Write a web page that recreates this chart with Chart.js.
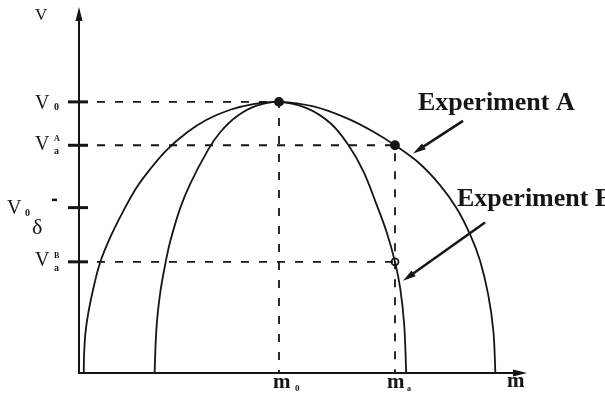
<!DOCTYPE html>
<html lang="en">
<head>
<meta charset="UTF-8" />
<title>Experiment A / Experiment B</title>
<script src="https://cdn.jsdelivr.net/npm/chart.js"></script>
<style>
    body { margin: 0; background: #fff; }
    canvas { display: block; }
</style>
</head>
<body>
<canvas id="chart" width="605" height="401"></canvas>
<script>
// levels on the V axis and positions on the m axis
const v0 = 10, vaA = 8.4, v0Delta = 6.1, vaB = 4.1;
const m0 = 5, ma = 7.9;
const mMax = 11.2, vMax = 13.5;

// outer curve (Experiment A)
const outerM = [0.12, 0.125, 0.16, 0.23, 0.35, 0.52, 0.78, 1.11, 1.44, 1.78, 2.19, 2.69, 3.19, 3.78, 4.36, 5,
                5.86, 6.69, 7.36, 7.9, 8.52, 9.02, 9.44, 9.78, 10.03, 10.23, 10.36, 10.41];
const outerV = [0, 0.6, 1.46, 2.2, 3.06, 4.04, 5.0, 5.98, 6.84, 7.52, 8.22, 8.86, 9.34, 9.71, 9.92, 10,
                9.83, 9.4, 8.9, 8.4, 7.72, 6.94, 6.08, 5.1, 4.12, 2.89, 1.54, 0];

// inner curve (Experiment B)
const innerM = [1.89, 1.92, 1.96, 2.04, 2.16, 2.28, 2.53, 2.78, 3.23, 3.53, 3.94, 4.44, 5,
                5.69, 6.28, 6.73, 7.11, 7.44, 7.69, 7.9, 8.03, 8.13, 8.18];
const innerV = [0, 1.22, 2.08, 3.06, 4.04, 4.85, 6.08, 6.98, 8.24, 8.88, 9.46, 9.86, 10,
                9.77, 9.22, 8.42, 7.44, 6.21, 5.2, 4.1, 3.13, 1.78, 0];

const pts = (xs, ys) => xs.map((x, i) => ({ x: x, y: ys[i] }));
const ink = '#151515';

function arrow(ctx, x1, y1, x2, y2, len, half) {
    const a = Math.atan2(y2 - y1, x2 - x1);
    ctx.beginPath();
    ctx.moveTo(x1, y1);
    ctx.lineTo(x2 - Math.cos(a) * len * 0.6, y2 - Math.sin(a) * len * 0.6);
    ctx.stroke();
    ctx.beginPath();
    ctx.moveTo(x2, y2);
    ctx.lineTo(x2 - Math.cos(a) * len - Math.sin(a) * half, y2 - Math.sin(a) * len + Math.cos(a) * half);
    ctx.lineTo(x2 - Math.cos(a) * len + Math.sin(a) * half, y2 - Math.sin(a) * len - Math.cos(a) * half);
    ctx.closePath();
    ctx.fill();
}

function text(ctx, s, x, y, font) {
    ctx.font = font;
    ctx.fillText(s, x, y);
}

// axes, ticks, labels and pointer arrows
const diagram = {
    id: 'diagram',
    afterDraw(chart) {
        const { ctx, scales: { x, y } } = chart;
        const ox = x.getPixelForValue(0), oy = y.getPixelForValue(0);
        const top = y.getPixelForValue(vMax), right = x.getPixelForValue(mMax);
        const serif = '"Liberation Serif", "DejaVu Serif", serif';
        ctx.save();
        ctx.strokeStyle = ink;
        ctx.fillStyle = ink;
        ctx.lineWidth = 2;
        ctx.textBaseline = 'alphabetic';

        arrow(ctx, ox, oy + 1, ox, top, 14, 3.5);
        arrow(ctx, ox - 1, oy, right, oy, 14, 3.5);

        // tick marks on the V axis
        ctx.lineWidth = 3;
        [v0, vaA, v0Delta, vaB].forEach(v => {
            const py = y.getPixelForValue(v);
            ctx.beginPath();
            ctx.moveTo(ox - 11, py);
            ctx.lineTo(ox + 9, py);
            ctx.stroke();
        });

        // V axis labels
        text(ctx, 'V', ox - 44, 20, '17px ' + serif);

        let py = y.getPixelForValue(v0);
        text(ctx, 'V', ox - 44, py + 7, '20px ' + serif);
        text(ctx, '0', ox - 25, py + 8, 'bold 10px ' + serif);

        py = y.getPixelForValue(vaA);
        text(ctx, 'V', ox - 44, py + 5, '20px ' + serif);
        text(ctx, 'A', ox - 25, py - 4, 'bold 8px ' + serif);
        text(ctx, 'a', ox - 25, py + 9, 'bold 10px ' + serif);

        py = y.getPixelForValue(v0Delta);
        text(ctx, 'V', ox - 72, py + 6, '20px ' + serif);
        text(ctx, '0', ox - 54, py + 8, 'bold 10px ' + serif);
        ctx.fillRect(ox - 27, py - 9, 5, 2.5);
        text(ctx, 'δ', ox - 47, py + 26, '22px ' + serif);

        py = y.getPixelForValue(vaB);
        text(ctx, 'V', ox - 44, py + 4, '20px ' + serif);
        text(ctx, 'B', ox - 25, py - 4, 'bold 8px ' + serif);
        text(ctx, 'a', ox - 25, py + 9, 'bold 10px ' + serif);

        // m axis labels
        let px = x.getPixelForValue(m0);
        text(ctx, 'm', px - 6, oy + 15, 'bold 21px ' + serif);
        text(ctx, '0', px + 16, oy + 18, 'bold 9px ' + serif);
        px = x.getPixelForValue(ma);
        text(ctx, 'm', px - 8, oy + 15, 'bold 21px ' + serif);
        text(ctx, 'a', px + 12, oy + 18, 'bold 8px ' + serif);
        text(ctx, 'm', right - 20, oy + 14, 'bold 21px ' + serif);

        // experiment captions with their pointers
        text(ctx, 'Experiment A', 418, 110, 'bold 26px ' + serif);
        text(ctx, 'Experiment B', 457, 206, 'bold 26px ' + serif);
        ctx.lineWidth = 2.5;
        arrow(ctx, x.getPixelForValue(9.6), y.getPixelForValue(9.3),
              x.getPixelForValue(8.35), y.getPixelForValue(8.1), 13, 3.5);
        arrow(ctx, x.getPixelForValue(10.15), y.getPixelForValue(5.55),
              x.getPixelForValue(8.1), y.getPixelForValue(3.4), 13, 3.5);
        ctx.restore();
    }
};

const dashed = { borderColor: ink, borderWidth: 1.8, borderDash: [8, 10], pointRadius: 0, showLine: true, tension: 0 };
const curve = { borderColor: ink, borderWidth: 1.8, pointRadius: 0, showLine: true, tension: 0.35 };

new Chart(document.getElementById('chart'), {
    type: 'scatter',
    data: {
        datasets: [
            { ...dashed, label: 'V0 guide', data: [{ x: 0, y: v0 }, { x: m0, y: v0 }, { x: m0, y: 0 }] },
            { ...dashed, label: 'VaA guide', data: [{ x: 0, y: vaA }, { x: ma, y: vaA }, { x: ma, y: 0 }] },
            { ...dashed, label: 'VaB guide', data: [{ x: 0, y: vaB }, { x: ma, y: vaB }] },
            { ...curve, label: 'Experiment A', data: pts(outerM, outerV) },
            { ...curve, label: 'Experiment B', data: pts(innerM, innerV) },
            {
                label: 'points',
                data: [{ x: m0, y: v0 }, { x: ma, y: vaA }, { x: ma, y: vaB }],
                pointRadius: [4, 4, 3.5],
                pointBackgroundColor: [ink, ink, '#fff'],
                pointBorderColor: ink,
                pointBorderWidth: 1.8,
                showLine: false
            }
        ]
    },
    options: {
        responsive: false,
        animation: false,
        layout: { padding: { left: 79, right: 78, top: 7, bottom: 28 } },
        plugins: { legend: { display: false }, tooltip: { enabled: false } },
        scales: {
            x: { type: 'linear', min: 0, max: mMax, display: false },
            y: { type: 'linear', min: 0, max: vMax, display: false }
        }
    },
    plugins: [diagram]
});
</script>
</body>
</html>
